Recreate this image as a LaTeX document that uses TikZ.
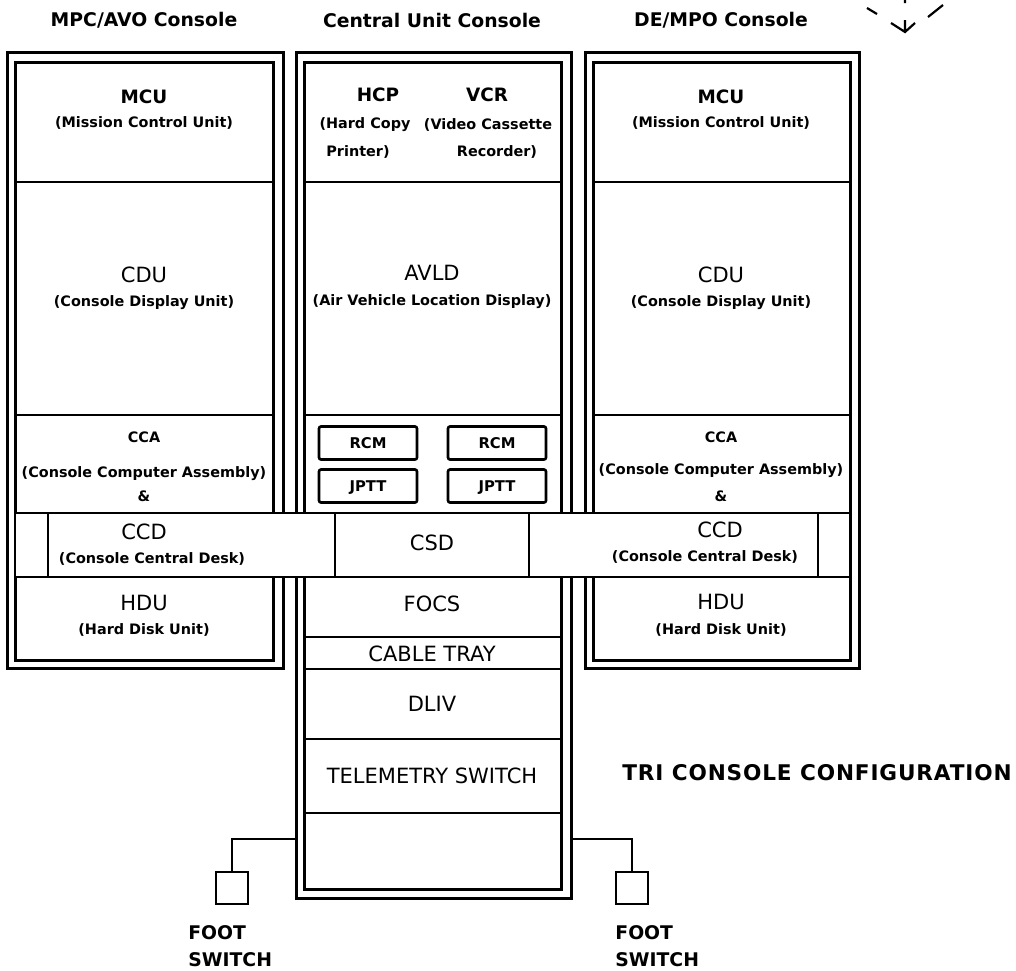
\documentclass[tikz,border=0pt]{standalone}
\usepackage{fontspec}
\setmainfont{DejaVu Sans}
\tikzset{
    frame/.style={draw,line width=1.5pt},
    part/.style={draw,line width=1.3pt},
    wire/.style={draw,line width=1.1pt}
}

\begin{document}
\begin{tikzpicture}[x=0.5pt,y=-0.5pt,
                    title/.style={font=\fontsize{9.4}{11}\selectfont\bfseries,inner sep=0pt},
                    unit/.style={font=\fontsize{9.2}{11}\selectfont\bfseries,inner sep=0pt},
                    lbl/.style={font=\fontsize{10.5}{12}\selectfont,inner sep=0pt},
                    sub/.style={font=\fontsize{7.2}{9}\selectfont\bfseries,inner sep=0pt},
                    module/.style={draw,line width=1.3pt,rounded corners=1pt,minimum width=49pt,
                                   minimum height=16.5pt,inner sep=0pt,text height=5.4pt,text depth=0pt,
                                   font=\fontsize{7.4}{9}\selectfont\bfseries},
                    pedal/.style={draw,line width=1.3pt,minimum size=16pt,inner sep=0pt},
                    foot/.style={font=\fontsize{9.4}{13.5}\selectfont\bfseries,align=left,inner sep=0pt,anchor=north west}]

\useasboundingbox (0,0) rectangle (1016,970);

% MPC/AVO console
\draw[frame] (7,52) rectangle (283,668);
\draw[frame] (15,62) rectangle (273,660);
\draw[part] (15,182) -- (273,182);
\draw[part] (15,415) -- (273,415);

% Central unit console
\draw[frame] (296,52) rectangle (571,898);
\draw[frame] (304,62) rectangle (561,889);
\draw[part] (304,182) -- (561,182);
\draw[part] (304,415) -- (561,415);
\draw[part] (304,637) -- (561,637);
\draw[part] (304,669) -- (561,669);
\draw[part] (304,739) -- (561,739);
\draw[part] (304,813) -- (561,813);

% DE/MPO console
\draw[frame] (585,52) rectangle (859,668);
\draw[frame] (593,62) rectangle (850,660);
\draw[part] (593,182) -- (850,182);
\draw[part] (593,415) -- (850,415);

% Desk strip across the three consoles
\draw[part,fill=white] (15,513) rectangle (850,577);
\draw[part] (48,513) -- (48,577);
\draw[part] (335,513) -- (335,577);
\draw[part] (529,513) -- (529,577);
\draw[part] (818,513) -- (818,577);

% Titles
\node[title] (tmpc) at (144,20) {MPC/AVO Console};
\node[title] (tcu) at (432,20) {Central Unit Console};
\node[title] (tde) at (721,20) {DE/MPO Console};

% Left console labels
\node[unit] (mcuA) at (144,97) {MCU};
\node[sub] (mcuAt) at (144,123) {(Mission Control Unit)};
\node[lbl] (cduA) at (144,275) {CDU};
\node[sub] (cduAt) at (144,303) {(Console Display Unit)};
\node[sub] (ccaA) at (144,437) {CCA};
\node[sub] (ccaAt) at (144,474) {(Console Computer Assembly)};
\node[sub] (ampA) at (144,496) {\&};
\node[lbl] (ccdA) at (144,532) {CCD};
\node[sub] (ccdAt) at (152,559) {(Console Central Desk)};
\node[lbl] (hduA) at (144,603) {HDU};
\node[sub] (hduAt) at (144,630) {(Hard Disk Unit)};

% Central console labels
\node[unit] (hcp) at (378,95) {HCP};
\node[unit] (vcr) at (487,95) {VCR};
\node[sub] (hcpt) at (365,125) {(Hard Copy};
\node[sub] (hcpu) at (358,152) {Printer)};
\node[sub] (vcrt) at (488,125) {(Video Cassette};
\node[sub] (vcru) at (497,152) {Recorder)};
\node[lbl] (avld) at (432,273) {AVLD};
\node[sub] (avldt) at (432,302) {(Air Vehicle Location Display)};
\node[module] (rcmA) at (368,443) {RCM};
\node[module] (rcmB) at (497,443) {RCM};
\node[module] (jpttA) at (368,486) {JPTT};
\node[module] (jpttB) at (497,486) {JPTT};
\node[lbl] (csd) at (432,543) {CSD};
\node[lbl] (focs) at (432,604) {FOCS};
\node[lbl] (tray) at (432,654) {CABLE TRAY};
\node[lbl] (dliv) at (432,704) {DLIV};
\node[lbl] (tlm) at (432,776) {TELEMETRY SWITCH};

% Right console labels
\node[unit] (mcuB) at (721,97) {MCU};
\node[sub] (mcuBt) at (721,123) {(Mission Control Unit)};
\node[lbl] (cduB) at (721,275) {CDU};
\node[sub] (cduBt) at (721,303) {(Console Display Unit)};
\node[sub] (ccaB) at (721,437) {CCA};
\node[sub] (ccaBt) at (721,471) {(Console Computer Assembly)};
\node[sub] (ampB) at (721,496) {\&};
\node[lbl] (ccdB) at (720,530) {CCD};
\node[sub] (ccdBt) at (705,557) {(Console Central Desk)};
\node[lbl] (hduB) at (721,602) {HDU};
\node[sub] (hduBt) at (721,630) {(Hard Disk Unit)};

\node[font=\fontsize{10.8}{13}\selectfont\bfseries\addfontfeature{LetterSpace=4},inner sep=0pt]
    (cfg) at (817,773) {TRI CONSOLE CONFIGURATION};

% Foot switches
\node[pedal] (pedA) at (232,888) {};
\node[pedal] (pedB) at (632,888) {};
\coordinate (cuW) at (296,839);
\coordinate (cuE) at (571,839);
\draw[wire] (cuW) -| (pedA.north);
\draw[wire] (cuE) -| (pedB.north);
\node[foot] (footA) at (188,925) {FOOT\\SWITCH};
\node[foot] (footB) at (615,925) {FOOT\\SWITCH};

% Cut-off mark, top right
\draw[wire] (905,0) -- (905,3) (867,8) -- (877,14) (928,17) -- (943,5)
    (905,20) -- (905,32) (891,23) -- (905,32) -- (915,23);

\end{tikzpicture}
\end{document}
